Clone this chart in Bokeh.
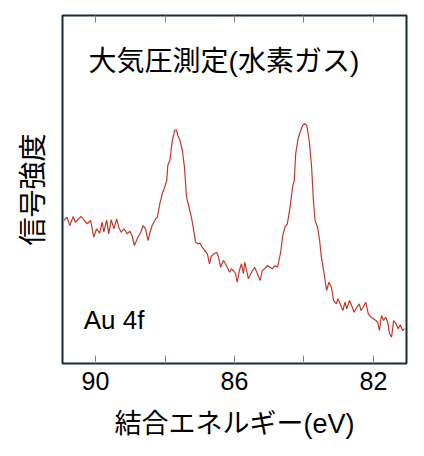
from bokeh.plotting import figure
from bokeh.models import Range1d, FixedTicker, LinearAxis, Label
from bokeh.embed import file_html
from bokeh.resources import INLINE

# Binding energy (eV) and signal intensity (arb. units)
energy = [90.91, 90.82, 90.74, 90.64, 90.58, 90.48, 90.41, 90.32, 90.24, 90.14,
          90.05, 89.97, 89.88, 89.81, 89.76, 89.68, 89.62, 89.55, 89.47, 89.39,
          89.33, 89.26, 89.18, 89.09, 89.01, 88.95, 88.88, 88.78, 88.70, 88.63,
          88.56, 88.49, 88.43, 88.37, 88.27, 88.22, 88.15, 88.08, 88.01, 87.95,
          87.92, 87.86, 87.82, 87.78, 87.72, 87.67, 87.63, 87.57, 87.50, 87.44,
          87.38, 87.31, 87.24, 87.19, 87.12, 87.05, 86.99, 86.93, 86.86, 86.78,
          86.72, 86.67, 86.59, 86.51, 86.46, 86.40, 86.32, 86.26, 86.21, 86.14,
          86.09, 86.03, 85.97, 85.92, 85.86, 85.80, 85.74, 85.71, 85.65, 85.60,
          85.53, 85.48, 85.42, 85.34, 85.26, 85.20, 85.13, 85.05, 84.98, 84.91,
          84.84, 84.76, 84.72, 84.67, 84.62, 84.55, 84.48, 84.40, 84.33, 84.28,
          84.24, 84.17, 84.11, 84.04, 83.98, 83.92, 83.85, 83.78, 83.73, 83.68,
          83.61, 83.55, 83.50, 83.42, 83.35, 83.28, 83.21, 83.15, 83.07, 83.02,
          82.94, 82.88, 82.82, 82.77, 82.69, 82.61, 82.56, 82.48, 82.41, 82.36,
          82.30, 82.22, 82.15, 82.07, 82.00, 81.93, 81.88, 81.83, 81.77, 81.71,
          81.65, 81.59, 81.54, 81.48, 81.42, 81.35, 81.29, 81.23, 81.16, 81.11]

intensity = [143.0, 146.3, 138.0, 147.0, 141.3, 144.7, 147.0, 143.0, 139.7, 143.0,
             126.3, 134.7, 130.3, 141.3, 131.3, 143.7, 129.7, 143.7, 134.7, 144.7,
             136.3, 131.3, 134.7, 129.7, 132.3, 128.0, 118.0, 126.3, 131.3, 138.0,
             134.7, 123.0, 131.3, 138.0, 144.7, 146.3, 159.7, 169.7, 176.3, 183.0,
             198.0, 203.0, 214.7, 224.7, 233.0, 233.7, 228.0, 223.0, 213.0, 196.3,
             166.3, 156.3, 146.3, 136.3, 121.3, 119.7, 120.3, 116.3, 113.0, 109.7,
             99.7, 107.0, 109.7, 111.3, 106.3, 96.3, 103.0, 99.7, 96.3, 91.3,
             94.7, 93.0, 89.7, 81.3, 93.0, 99.7, 89.7, 101.3, 93.0, 84.7,
             89.7, 93.0, 96.3, 89.7, 83.0, 93.0, 94.7, 98.0, 96.3, 94.7,
             98.0, 96.3, 103.0, 111.3, 126.3, 136.3, 139.7, 156.3, 176.3, 183.0,
             209.7, 224.7, 231.3, 238.0, 239.7, 238.0, 223.0, 196.3, 163.0, 143.0,
             136.3, 123.0, 106.3, 89.7, 73.0, 81.3, 76.3, 63.0, 59.7, 64.7,
             58.0, 53.0, 61.3, 54.7, 63.0, 56.3, 51.3, 56.3, 59.7, 53.0,
             56.3, 61.3, 49.7, 46.3, 44.7, 43.0, 41.3, 33.0, 48.0, 43.0,
             46.3, 41.3, 29.7, 26.3, 43.0, 39.7, 34.7, 38.7, 33.0, 34.7]

labeled_ticks = [90, 86, 82]
unlabeled_ticks = [88, 84]
all_ticks = [90, 88, 86, 84, 82]

title_text = "大気圧測定(水素ガス)"
peak_text = "Au 4f"
x_label = "結合エネルギー(eV)"
y_label = "信号強度"

LATIN = "Liberation Sans"
CJK = "Liberation Sans, Noto Sans CJK JP"

p = figure(width=416, height=448, output_backend="svg", toolbar_location=None,
           x_range=Range1d(90.95, 81.05), y_range=Range1d(0, 348),
           frame_width=344, frame_height=348,
           min_border_left=62, min_border_right=10, min_border_top=15,
           min_border_bottom=85, x_axis_location=None, y_axis_location=None)

p.background_fill_color = "white"
p.border_fill_color = "white"
p.outline_line_color = "#1b2a38"
p.outline_line_width = 2
p.xgrid.visible = False
p.ygrid.visible = False

p.line(energy, intensity, line_color="#c0392b", line_width=1.2)

xb = LinearAxis(ticker=FixedTicker(ticks=labeled_ticks, minor_ticks=unlabeled_ticks),
                axis_label=x_label)
xb.axis_line_color = None
xb.major_tick_in = 8
xb.major_tick_out = 0
xb.minor_tick_in = 8
xb.minor_tick_out = 0
xb.major_tick_line_color = "#808080"
xb.minor_tick_line_color = "#808080"
xb.major_label_text_font = LATIN
xb.major_label_text_font_size = "25px"
xb.major_label_text_color = "black"
xb.major_label_standoff = 8
xb.axis_label_text_font = CJK
xb.axis_label_text_font_size = "27px"
xb.axis_label_text_font_style = "normal"
xb.axis_label_text_color = "black"
xb.axis_label_standoff = 16
p.add_layout(xb, "below")

xt = LinearAxis(ticker=FixedTicker(ticks=[], minor_ticks=all_ticks))
xt.axis_line_color = None
xt.major_tick_line_color = None
xt.minor_tick_in = 7
xt.minor_tick_out = 0
xt.minor_tick_line_color = "#808080"
p.add_layout(xt, "above")

yl = LinearAxis(ticker=FixedTicker(ticks=[]), axis_label=y_label)
yl.axis_line_color = None
yl.major_tick_line_color = None
yl.minor_tick_line_color = None
yl.axis_label_text_font = "Noto Sans CJK JP"
yl.axis_label_text_font_size = "28px"
yl.axis_label_text_font_style = "normal"
yl.axis_label_text_color = "black"
yl.axis_label_standoff = 12
p.add_layout(yl, "left")

p.add_layout(Label(x=90.2, y=302, text=title_text, text_font=CJK,
                   text_font_size="28px", text_color="black",
                   text_align="left", text_baseline="middle"))
p.add_layout(Label(x=90.34, y=44, text=peak_text, text_font=LATIN,
                   text_font_size="26px", text_color="black",
                   text_align="left", text_baseline="middle"))

open("out.html", "w").write(file_html(p, INLINE))
